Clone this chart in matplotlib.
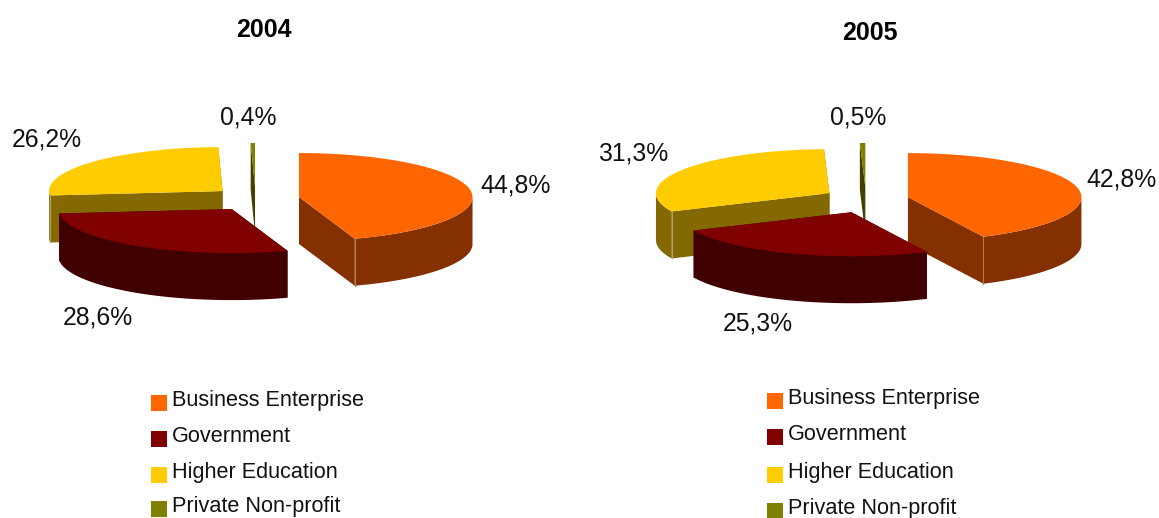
#!/usr/bin/env python3
# -*- coding: utf-8 -*-
"""
Two exploded 3D pies, R&D shares per sector, 2004 and 2005
"""

import numpy as np
import matplotlib
matplotlib.use('Agg')
import matplotlib.pyplot as plt
from matplotlib.patches import Polygon, Rectangle

plt.rcParams['font.family'] = ['Liberation Sans', 'DejaVu Sans']

#Data

sectors = ['Business Enterprise', 'Government', 'Higher Education', 'Private Non-profit']
shares_2004 = [44.8, 28.6, 26.2, 0.4]
shares_2005 = [42.8, 25.3, 31.3, 0.5]

top_colors = ['#FF6600', '#800000', '#FFCC00', '#808000']
side_colors = ['#843000', '#400000', '#846800', '#404000']
seam_colors = ['#B07A50', None, '#B0A070', None]

#Drawing order, back to front
draw_order = [2, 3, 0, 1]

RX, RY = 173.5, 44
DEPTH = 47


def point(center, angle):
    """Point on the rim, angle in degrees clockwise from the top"""
    a = np.radians(angle)
    return center[0] + RX*np.sin(a), center[1] - RY*np.cos(a)


def arc(center, a0, a1):
    angles = np.linspace(a0, a1, 80)
    x, y = point(center, angles)
    return np.column_stack([x, y])


def draw_pie(ax, shares, cx, cy, ex, ey):
    shares = np.array(shares)
    edges = np.concatenate([[0], np.cumsum(shares)/shares.sum()*360])

    for i in draw_order:
        a0, a1 = edges[i], edges[i+1]
        mid = np.radians((a0 + a1)/2)
        center = (cx + ex*np.sin(mid), cy - ey*np.cos(mid))
        down = np.array([0, DEPTH])

        #radial walls
        for a in (a0, a1):
            rim = np.array(point(center, a))
            c = np.array(center)
            ax.add_patch(Polygon([c, rim, rim+down, c+down], fc=side_colors[i], ec='none'))

        #outer wall, only the front half can be seen
        v0, v1 = max(a0, 90), min(a1, 270)
        if v1 > v0:
            rim = arc(center, v0, v1)
            ax.add_patch(Polygon(np.vstack([rim, rim[::-1]+down]), fc=side_colors[i], ec='none'))

        if seam_colors[i] is not None:
            a = a1 if i == 0 else a0
            x, y = point(center, a)
            ax.plot([x, x], [y, y+DEPTH], color=seam_colors[i], lw=0.8)

        #top face
        top = np.vstack([[center], arc(center, a0, a1)])
        ax.add_patch(Polygon(top, fc=top_colors[i], ec='none'))


def draw_legend(ax, x, rows):
    for name, color, y in zip(sectors, top_colors, rows):
        ax.add_patch(Rectangle((x, y-8), 16, 16, fc=color, ec='none'))
        ax.text(x+21, y-2.5, name, fontsize=15.6, ha='left', va='center', color='#111111')


def percent(v):
    return '{:.1f}%'.format(v).replace('.', ',')


if __name__ == '__main__':

    fig = plt.figure(figsize=(11.59, 5.18), dpi=100)
    ax = fig.add_axes([0, 0, 1, 1])
    ax.set_xlim(0, 1159)
    ax.set_ylim(518, 0)
    ax.axis('off')

    draw_pie(ax, shares_2004, 255.6, 199, 44, 12)
    draw_pie(ax, shares_2005, 866, 200, 43, 13)

    ax.text(263.5, 30, '2004', fontsize=18, fontweight='bold', ha='center', va='center')
    ax.text(869.5, 33, '2005', fontsize=18, fontweight='bold', ha='center', va='center')

    #slice labels, same order as sectors
    pos_2004 = [(516, 185), (97.5, 318), (47, 140), (248.5, 118)]
    pos_2005 = [(1121.5, 180), (757.5, 324), (633, 154), (858.5, 118)]
    for shares, pos in ((shares_2004, pos_2004), (shares_2005, pos_2005)):
        for v, (x, y) in zip(shares, pos):
            ax.text(x, y, percent(v), fontsize=17.8, ha='center', va='center', color='#111111')

    draw_legend(ax, 151, [403, 439, 475, 509])
    draw_legend(ax, 767, [401, 437, 475, 511])

    fig.savefig('out.png', dpi=100, facecolor='white')
